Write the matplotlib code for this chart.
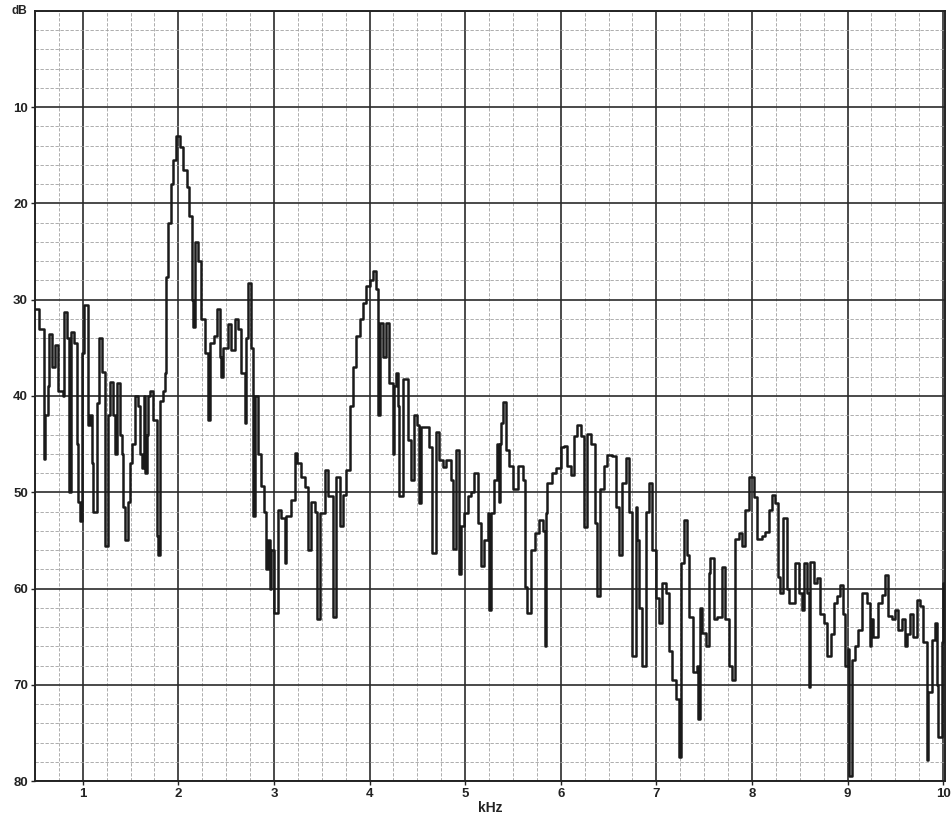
import matplotlib
matplotlib.use("Agg")
import matplotlib.pyplot as plt
from matplotlib.ticker import MultipleLocator

# Spectrum trace (step breakpoints) -----------------------------------------------------------------------------------
freq_khz = [0.50, 0.54, 0.59, 0.607, 0.635, 0.649, 0.677, 0.712, 0.74, 0.788, 0.80, 0.833, 0.858, 0.879, 0.903,
            0.938, 0.955, 0.975, 0.99, 1.018, 1.053, 1.077, 1.095, 1.112, 1.147, 1.165, 1.199, 1.233, 1.261, 1.286,
            1.32, 1.34, 1.355, 1.39, 1.407, 1.425, 1.442, 1.47, 1.494, 1.52, 1.547, 1.58, 1.60, 1.62, 1.64, 1.651,
            1.668, 1.685, 1.70, 1.737, 1.772, 1.79, 1.807, 1.84, 1.86, 1.875, 1.894, 1.925, 1.946, 1.98, 2.016,
            2.05, 2.085, 2.113, 2.138, 2.155, 2.172, 2.207, 2.232, 2.277, 2.312, 2.33, 2.37, 2.40, 2.434, 2.45,
            2.468, 2.52, 2.555, 2.59, 2.625, 2.66, 2.694, 2.712, 2.73, 2.764, 2.78, 2.80, 2.834, 2.868, 2.90, 2.92,
            2.94, 2.96, 2.973, 3.0, 3.043, 3.077, 3.112, 3.13, 3.182, 3.217, 3.244, 3.286, 3.321, 3.356, 3.384,
            3.43, 3.45, 3.478, 3.53, 3.565, 3.617, 3.652, 3.686, 3.721, 3.756, 3.79, 3.826, 3.86, 3.895, 3.93,
            3.965, 4.0, 4.034, 4.069, 4.085, 4.104, 4.139, 4.173, 4.208, 4.243, 4.26, 4.278, 4.30, 4.313, 4.347,
            4.40, 4.434, 4.469, 4.50, 4.515, 4.539, 4.626, 4.65, 4.695, 4.73, 4.765, 4.80, 4.852, 4.875, 4.904,
            4.939, 4.96, 4.991, 5.03, 5.06, 5.096, 5.138, 5.165, 5.20, 5.235, 5.252, 5.27, 5.305, 5.33, 5.35,
            5.36, 5.374, 5.395, 5.426, 5.461, 5.496, 5.548, 5.60, 5.625, 5.646, 5.687, 5.729, 5.774, 5.809, 5.833,
            5.844, 5.861, 5.913, 5.948, 6.0, 6.035, 6.07, 6.105, 6.14, 6.174, 6.209, 6.244, 6.279, 6.314, 6.355,
            6.383, 6.411, 6.453, 6.488, 6.54, 6.575, 6.61, 6.644, 6.679, 6.714, 6.749, 6.783, 6.80, 6.818, 6.853,
            6.888, 6.923, 6.957, 6.992, 7.027, 7.062, 7.097, 7.131, 7.166, 7.201, 7.236, 7.26, 7.288, 7.316, 7.34,
            7.385, 7.42, 7.437, 7.455, 7.479, 7.514, 7.549, 7.566, 7.601, 7.636, 7.688, 7.723, 7.758, 7.792, 7.827,
            7.862, 7.897, 7.932, 7.966, 8.019, 8.053, 8.106, 8.14, 8.175, 8.21, 8.245, 8.269, 8.297, 8.325, 8.366,
            8.384, 8.453, 8.488, 8.523, 8.54, 8.575, 8.593, 8.61, 8.645, 8.68, 8.714, 8.749, 8.784, 8.826, 8.853,
            8.888, 8.923, 8.951, 8.975, 9.0, 9.02, 9.045, 9.08, 9.114, 9.149, 9.2, 9.236, 9.25, 9.27, 9.323, 9.358,
            9.393, 9.428, 9.462, 9.497, 9.532, 9.567, 9.6, 9.619, 9.654, 9.689, 9.723, 9.758, 9.793, 9.828, 9.845,
            9.88, 9.915, 9.932, 9.95, 9.985, 10.0]
level_db = [31, 33, 46.5, 42, 39, 33.6, 37, 34.7, 39.5, 40, 31.3, 34, 50, 33.4, 34.5,
            45, 51, 53, 35.5, 30.5, 43, 42, 47, 52, 40.7, 34, 37.5, 55.6, 42, 38.5,
            42, 46, 38.7, 44, 46, 51.5, 55, 51, 47, 45, 40, 41, 46, 47.5, 40, 48,
            44, 40, 39.5, 42.5, 54.5, 56.5, 40.5, 39.5, 37.6, 27.6, 22, 18, 15.5, 13, 14.1,
            16.5, 18.3, 21.3, 30, 32.8, 24, 26, 32, 35.5, 42.5, 34.5, 33.8, 31, 36, 38,
            35, 32.5, 35.2, 32, 33, 37.6, 42.8, 34, 28.3, 35, 52.5, 40, 46, 49.4, 52, 58,
            55, 60, 56, 62.5, 51.8, 52.7, 57.3, 52.5, 50.8, 45.9, 47, 48.4, 49.5, 56, 51,
            52, 63.2, 52.2, 47.7, 50.4, 63, 48.4, 53.5, 50.3, 47.7, 41, 37, 33.8, 32, 30.3,
            28.6, 27.9, 27, 28.9, 42, 32.4, 35.9, 32.4, 38.7, 46, 39, 37.6, 41, 50.4, 38.2,
            44.6, 48.7, 42, 43, 51.1, 43.2, 45.3, 56.3, 43.7, 46.7, 47.4, 46.7, 48.7, 55.9, 45.6,
            58.5, 53.5, 52.2, 50.4, 50, 48, 53.2, 57.7, 55, 52.2, 62.2, 52.2, 48.7, 45, 51,
            45, 42.8, 40.6, 45.6, 47.3, 49.7, 47.3, 48.7, 59.8, 62.5, 56, 54.2, 52.9, 54, 66,
            52.2, 49, 48, 47.5, 45.3, 45.2, 47.3, 48.2, 44.2, 43, 44.2, 53.6, 43.9, 45, 53.2,
            60.8, 49.7, 47.3, 46.1, 46.2, 51.5, 56.5, 49, 46.4, 52, 67, 51.5, 55, 62, 68,
            52, 49, 56, 61, 63.6, 59.4, 60.5, 66.5, 69.5, 71.5, 77.5, 57.3, 52.9, 56.5, 63,
            68.7, 68, 73.6, 62, 64.6, 66, 58.4, 56.8, 63.2, 63, 57.8, 63.2, 68.1, 69.5, 54.9,
            54.2, 55.6, 51.8, 48.4, 50.5, 54.9, 54.5, 54.1, 51.8, 50.3, 51.1, 58.8, 60.5, 52.7, 60,
            61.5, 57.3, 60.5, 62.2, 57.3, 60.5, 70.2, 57.2, 59.4, 58.9, 62.6, 63.6, 67, 64.7, 61.5,
            60.8, 59.6, 62.6, 68, 66.3, 79.5, 67.4, 66, 64.3, 60.5, 61.5, 66, 63.2, 65, 61.5, 60.7,
            58.6, 62.9, 63.2, 62.2, 64.3, 63.2, 66, 64.7, 62.6, 65, 61.2, 61.8, 65.6, 77.8, 70.8,
            65.3, 63.6, 70, 75.4, 65.6, 59.4]

x_ticks = [1, 2, 3, 4, 5, 6, 7, 8, 9, 10]
y_ticks = [10, 20, 30, 40, 50, 60, 70, 80]

# Figure --------------------------------------------------------------------------------------------------------------
fig = plt.figure(figsize=(9.53, 8.25), dpi=100)
ax = fig.add_axes([0.0367, 0.0533, 0.955, 0.9334])

ax.set_xlim(0.5, 10.02)
ax.set_ylim(80, 0)

ax.xaxis.set_minor_locator(MultipleLocator(0.25))
ax.yaxis.set_minor_locator(MultipleLocator(2))
ax.set_xticks(x_ticks)
ax.set_yticks(y_ticks)
ax.set_xticklabels([str(v) for v in x_ticks], fontsize=9.5, fontweight="bold", family="Liberation Sans")
ax.set_yticklabels([str(v) for v in y_ticks], fontsize=9.5, fontweight="bold", family="Liberation Sans")
ax.tick_params(axis="both", which="major", length=3, width=1, color="#222222", pad=2, labelcolor="#222222")
ax.tick_params(axis="both", which="minor", length=0)

ax.grid(which="major", color="#2b2b2b", linewidth=1.2, linestyle="-")
ax.grid(which="minor", color="#a0a0a0", linewidth=0.6, linestyle=(0, (4, 2)))
ax.set_axisbelow(True)

for side in ax.spines.values():
    side.set_linewidth(1.4)
    side.set_color("#222222")

ax.step(freq_khz + [10.02], level_db + [level_db[-1]], where="post", color="#1a1a1a", linewidth=1.8, zorder=5)

ax.text(-0.008, 1.0, "dB", transform=ax.transAxes, ha="right", va="center",
        fontsize=8.5, fontweight="bold", family="Liberation Sans", color="#222222")
ax.set_xlabel("kHz", fontsize=10, fontweight="bold", family="Liberation Sans", labelpad=1, color="#222222")

fig.savefig("out.png", dpi=100)
